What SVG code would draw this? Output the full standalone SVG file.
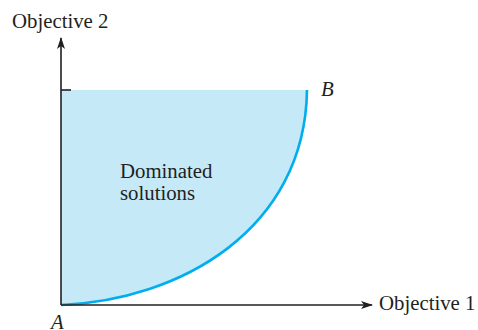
<svg xmlns="http://www.w3.org/2000/svg" width="478" height="330" viewBox="0 0 478 330">
<style>
text{font-family:"Liberation Serif","Times New Roman",serif;font-size:20.8px;fill:#231f20}
.it{font-style:italic}
.ax{stroke:#231f20;stroke-width:1.6;fill:none}
</style>
<defs>
<marker id="ah" viewBox="0 0 12 8" refX="11" refY="4" markerWidth="12" markerHeight="8" markerUnits="userSpaceOnUse" orient="auto">
<path d="M0,0 L12,4 L0,8 L3,4 Z" fill="#231f20"/>
</marker>
</defs>
<g id="region">
<path d="M61,305 C180,300 305,230 307,90 L61,90 Z" fill="#c6e9f8"/>
</g>
<g id="curve">
<path d="M61,305 C180,300 305,230 307,90" fill="none" stroke="#00aeef" stroke-width="2.6"/>
</g>
<g id="connectors">
<line class="ax" x1="61" y1="305" x2="61" y2="38" marker-end="url(#ah)"/>
<line class="ax" x1="61" y1="305" x2="372" y2="305" marker-end="url(#ah)"/>
<line class="ax" x1="61" y1="90" x2="71" y2="90"/>
</g>
<g id="labels">
<text x="12" y="28">Objective 2</text>
<text x="379" y="310">Objective 1</text>
<text class="it" x="321" y="96">B</text>
<text class="it" x="51" y="329">A</text>
<text x="120" y="178">Dominated</text>
<text x="120" y="200">solutions</text>
</g>
</svg>
